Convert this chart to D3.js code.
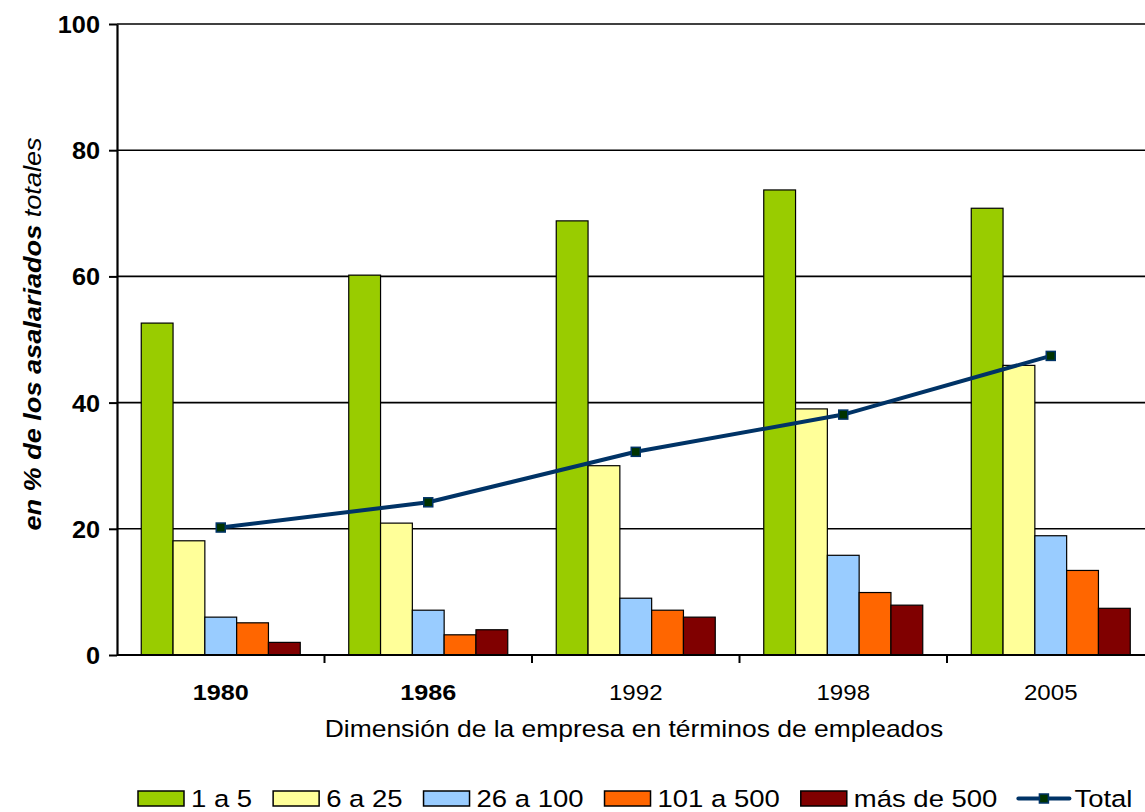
<!DOCTYPE html>
<html>
<head>
<meta charset="utf-8">
<script src="https://cdn.jsdelivr.net/npm/d3@7"></script>
<style>
  html, body { margin: 0; padding: 0; background: #fff; }
  svg { display: block; font-family: "Liberation Sans", Arial, sans-serif; }
</style>
</head>
<body>
<svg id="chart" width="1145" height="812"></svg>
<script>
// ---- data ----
const years = ["1980", "1986", "1992", "1998", "2005"];
const boldYears = ["1980", "1986"];
const seriesNames = ["1 a 5", "6 a 25", "26 a 100", "101 a 500", "más de 500"];
const s1a5     = [52.6, 60.2, 68.8, 73.7, 70.8];
const s6a25    = [18.1, 20.9, 30.0, 39.0, 45.9];
const s26a100  = [6.0, 7.1, 9.0, 15.8, 18.9];
const s101a500 = [5.1, 3.2, 7.1, 9.9, 13.4];
const sMas500  = [2.0, 4.0, 6.0, 7.9, 7.4];
const total    = [20.2, 24.2, 32.2, 38.1, 47.4];
const totalName = "Total";
const yTicks = [0, 20, 40, 60, 80, 100];
const yTitleBold = "en % de los asalariados ";
const yTitleRegular = "totales";
const xTitle = "Dimensión de la empresa en términos de empleados";

(function () {
const seriesValues = [s1a5, s6a25, s26a100, s101a500, sMas500];
const colors = ["#99CC00", "#FFFF99", "#99CCFF", "#FF6600", "#800000"];
const lineColor = "#003366";
const markerFill = "#003300";

const svg = d3.select("#chart");
const mLeft = 117, mTop = 24, mBottom = 655, bandW = 207.5;
const mRight = mLeft + bandW * years.length;

const x = d3.scaleBand().domain(years).range([mLeft, mRight]).paddingInner(0).paddingOuter(0);
const groupW = 159;
const xs = d3.scaleBand().domain(seriesNames).range([0, groupW]).padding(0);
const y = d3.scaleLinear().domain([0, 100]).range([mBottom, mTop]);

// gridlines
svg.append("g").selectAll("line").data(yTicks.filter(d => d > 0)).join("line")
  .attr("x1", mLeft).attr("x2", 1145)
  .attr("y1", d => y(d)).attr("y2", d => y(d))
  .attr("stroke", "#000").attr("stroke-width", 1.6);

// bars
const groups = svg.append("g").selectAll("g").data(years).join("g")
  .attr("transform", d => `translate(${x(d) + (bandW - groupW) / 2},0)`);
groups.selectAll("rect")
  .data((yr, i) => seriesNames.map((s, j) => ({ s, j, v: seriesValues[j][i] })))
  .join("rect")
  .attr("x", d => xs(d.s))
  .attr("width", xs.bandwidth())
  .attr("y", d => y(d.v))
  .attr("height", d => y(0) - y(d.v))
  .attr("fill", d => colors[d.j])
  .attr("stroke", "#000").attr("stroke-width", 1.2);

// y axis
const yAxis = svg.append("g").attr("transform", `translate(${mLeft},0)`)
  .call(d3.axisLeft(y).tickValues(yTicks).tickSize(8).tickSizeOuter(0));
yAxis.select(".domain").attr("stroke", "#000").attr("stroke-width", 2.2);
yAxis.selectAll(".tick line").attr("stroke", "#000").attr("stroke-width", 2);
yAxis.selectAll(".tick text")
  .attr("x", 0).attr("dy", null)
  .attr("transform", "translate(-17,8.5) scale(1.1,1)")
  .attr("text-anchor", "end")
  .attr("font-size", "23px").attr("font-weight", "bold")
  .attr("font-family", "Liberation Sans, Arial, sans-serif").attr("fill", "#000");

// x axis
const xAxis = svg.append("g").attr("transform", `translate(0,${mBottom})`)
  .call(d3.axisBottom(x).tickSize(0).tickSizeOuter(0).tickFormat(""));
xAxis.select(".domain").attr("stroke", "#000").attr("stroke-width", 2.2).attr("d", `M${mLeft},0H1145`);
xAxis.selectAll(".tick").remove();
// boundary tick marks
svg.append("g").selectAll("line").data(years.slice(1)).join("line")
  .attr("x1", d => x(d)).attr("x2", d => x(d))
  .attr("y1", mBottom).attr("y2", mBottom + 8)
  .attr("stroke", "#000").attr("stroke-width", 2);
// category labels
svg.append("g").selectAll("text").data(years).join("text")
  .attr("transform", d => `translate(${x(d) + bandW / 2},700) scale(1.12,1)`)
  .attr("text-anchor", "middle")
  .attr("font-size", d => boldYears.includes(d) ? "22.5px" : "21.5px")
  .attr("font-weight", d => boldYears.includes(d) ? "bold" : "normal")
  .attr("fill", "#000")
  .text(d => d);

// x title
svg.append("text")
  .attr("transform", `translate(634,737) scale(1.15,1)`)
  .attr("text-anchor", "middle").attr("font-size", "23px").attr("fill", "#000")
  .text(xTitle);

// y title
const yt = svg.append("text")
  .attr("transform", `translate(41,334) rotate(-90) scale(1.13,1)`)
  .attr("text-anchor", "middle").attr("font-size", "24px").attr("font-style", "italic").attr("fill", "#000");
yt.append("tspan").attr("font-weight", "bold").text(yTitleBold);
yt.append("tspan").attr("font-weight", "normal").text(yTitleRegular);

// total line
const line = d3.line().x((d, i) => x(years[i]) + bandW / 2).y(d => y(d));
svg.append("path").datum(total).attr("d", line)
  .attr("fill", "none").attr("stroke", lineColor).attr("stroke-width", 4).attr("stroke-linejoin", "round");
svg.append("g").selectAll("rect").data(total).join("rect")
  .attr("x", (d, i) => x(years[i]) + bandW / 2 - 4.5)
  .attr("y", d => y(d) - 4.5)
  .attr("width", 9).attr("height", 9)
  .attr("fill", markerFill).attr("stroke", lineColor).attr("stroke-width", 1.5);

// legend
const LSX = 1.17;
const leg = svg.append("g");
let lx = 138;
const ly = 798.5;
seriesNames.forEach((name, j) => {
  leg.append("rect").attr("x", lx).attr("y", ly - 7.5).attr("width", 46).attr("height", 15)
    .attr("fill", colors[j]).attr("stroke", "#000").attr("stroke-width", 1.5);
  lx += 46 + 7;
  const t = leg.append("text")
    .attr("transform", `translate(${lx},${ly + 8}) scale(${LSX},1)`)
    .attr("font-size", "23.5px").attr("fill", "#000").text(name);
  lx += t.node().getComputedTextLength() * LSX + 21;
});
leg.append("line").attr("x1", lx).attr("x2", lx + 51).attr("y1", ly).attr("y2", ly)
  .attr("stroke", lineColor).attr("stroke-width", 4).attr("stroke-linecap", "round");
leg.append("rect").attr("x", lx + 25.5 - 4.5).attr("y", ly - 4.5).attr("width", 9).attr("height", 9)
  .attr("fill", markerFill).attr("stroke", lineColor).attr("stroke-width", 1.5);
lx += 51 + 5;
leg.append("text")
  .attr("transform", `translate(${lx},${ly + 8}) scale(${LSX},1)`)
  .attr("font-size", "23.5px").attr("fill", "#000").text(totalName);
})();
</script>
</body>
</html>
